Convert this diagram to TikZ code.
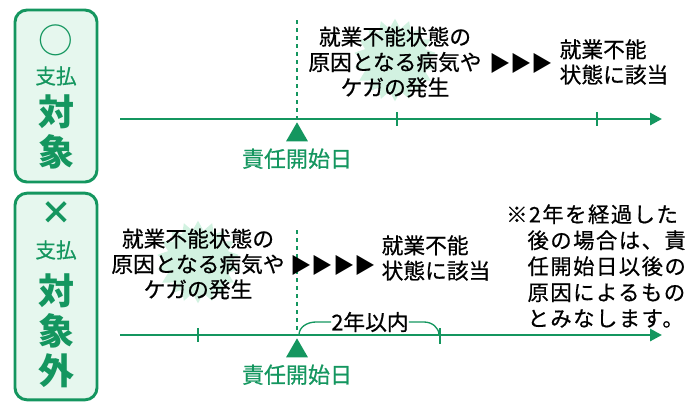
\documentclass[tikz,border=0pt]{standalone}
\usepackage{fontspec}
\setmainfont{Noto Sans CJK JP}
\newfontfamily\medfont{Noto Sans CJK JP}[FakeBold=0.6]
\newfontfamily\notefont{Noto Sans CJK JP}[FakeBold=0.6, LetterSpace=7]
\usetikzlibrary{positioning, shapes.geometric, arrows.meta}
\definecolor{kgreen}{RGB}{20,150,95}
\definecolor{kmint}{RGB}{230,247,238}
\definecolor{kburst}{RGB}{210,242,225}
\tikzstyle{badge} = [draw=kgreen, line width=2.2pt, fill=kmint, rounded corners=9pt]
\tikzstyle{badge-text} = [text=kgreen, font=\medfont\fontsize{15.5}{15.5}\selectfont, inner sep=0]
\tikzstyle{badge-big} = [text=kgreen, font=\fontsize{27}{27}\selectfont\bfseries, inner sep=0]
\tikzstyle{timeline} = [draw=kgreen, line width=2.2pt, -{Triangle[length=9pt, width=9pt]}]
\tikzstyle{tick} = [draw=kgreen, line width=1.2pt]
\tikzstyle{startline} = [draw=kgreen, dashed, line width=0.8pt]
\tikzstyle{start-mark} = [fill=kgreen, regular polygon, regular polygon sides=3, minimum size=19pt, inner sep=0]
\tikzstyle{start-label} = [text=kgreen, font=\medfont\fontsize{16.5}{16.5}\selectfont, inner sep=0]
\tikzstyle{body} = [font=\medfont\fontsize{16.3}{19}\selectfont, align=center, inner sep=0]
\tikzstyle{burst} = [fill=kburst, star, star points=18, star point ratio=1.3, inner sep=0]
\tikzstyle{marks} = [font=\fontsize{16}{16}\selectfont, inner sep=0]
\begin{document}
\begin{tikzpicture}[x=0.75pt, y=-0.75pt]
\useasboundingbox (0,0) rectangle (698,412);

% badges
\node (PAY_BOX) [badge, minimum width=61.5pt, minimum height=129pt] at (56,96) {};
\node (PAY_MARK) [badge-text, font=\fontsize{26}{26}\selectfont] at (56,40) {○};
\node (PAY_SUB) [badge-text] at (56,76) {支払};
\node (PAY_A) [badge-big] at (56,112) {対};
\node (PAY_B) [badge-big] at (56,152) {象};

\node (NOPAY_BOX) [badge, minimum width=61.5pt, minimum height=155pt] at (56,296.5) {};
\node (NOPAY_MARK) [badge-text, font=\fontsize{24}{24}\selectfont\bfseries] at (56,213) {×};
\node (NOPAY_SUB) [badge-text] at (56,250) {支払};
\node (NOPAY_A) [badge-big] at (56,291) {対};
\node (NOPAY_B) [badge-big] at (56,331) {象};
\node (NOPAY_C) [badge-big] at (56,371) {外};

% upper timeline
\coordinate (TOP_START) at (120,119);
\coordinate (TOP_END) at (662,119);
\coordinate (TOP_DASH) at (297,20);
\draw[startline] (TOP_DASH) -- (TOP_DASH |- TOP_START);
\draw[timeline] (TOP_START) -- (TOP_END);
\draw[tick] (397,112) -- (397,126);
\draw[tick] (597,112) -- (597,126);
\node (TOP_TRI) [start-mark] at (297,135) {};
\node (TOP_DAY) [start-label, below=5pt of TOP_TRI] {責任開始日};
\node (TOP_BURST) [burst, minimum size=62pt] at (395,60) {};
\node (TOP_CAUSE) [body] at (395,62) {就業不能状態の\\原因となる病気や\\ケガの発生};
\node (TOP_ARROWS) [marks] at (521,63) {▶▶▶};
\node (TOP_RESULT) [body, align=left] at (614,62) {就業不能\\状態に該当};

% lower timeline
\coordinate (LOW_START) at (120,335);
\coordinate (LOW_END) at (662,335);
\coordinate (LOW_DASH) at (297,230);
\draw[startline] (LOW_DASH) -- (LOW_DASH |- LOW_START);
\draw[timeline] (LOW_START) -- (LOW_END);
\draw[tick] (198,328) -- (198,342);
\draw[tick] (440,328) -- (440,344);
\node (LOW_TRI) [start-mark] at (297,351) {};
\node (LOW_DAY) [start-label, below=5pt of LOW_TRI] {責任開始日};
\node (LOW_BURST) [burst, minimum size=62pt] at (198,262) {};
\node (LOW_CAUSE) [body] at (198,264) {就業不能状態の\\原因となる病気や\\ケガの発生};
\node (LOW_ARROWS) [marks] at (333,265) {▶▶▶▶};
\node (LOW_RESULT) [body, align=left] at (436,258) {就業不能\\状態に該当};

% two years
\node (LOW_SPAN) [body] at (370,322) {2年以内};
\draw[kgreen, line width=1pt] (299,335) to[out=90, in=180] (316,322) -- (LOW_SPAN.west);
\draw[kgreen, line width=1pt] (LOW_SPAN.east) -- (424,322) to[out=0, in=90] (439,335);

% note
\node (LOW_NOTE) [body, align=left, font=\notefont\fontsize{16}{19.5}\selectfont] at (596,266)
  {※2年を経過した\\\hspace*{1em}後の場合は、責\\\hspace*{1em}任開始日以後の\\\hspace*{1em}原因によるもの\\\hspace*{1em}とみなします。};
\end{tikzpicture}
\end{document}
